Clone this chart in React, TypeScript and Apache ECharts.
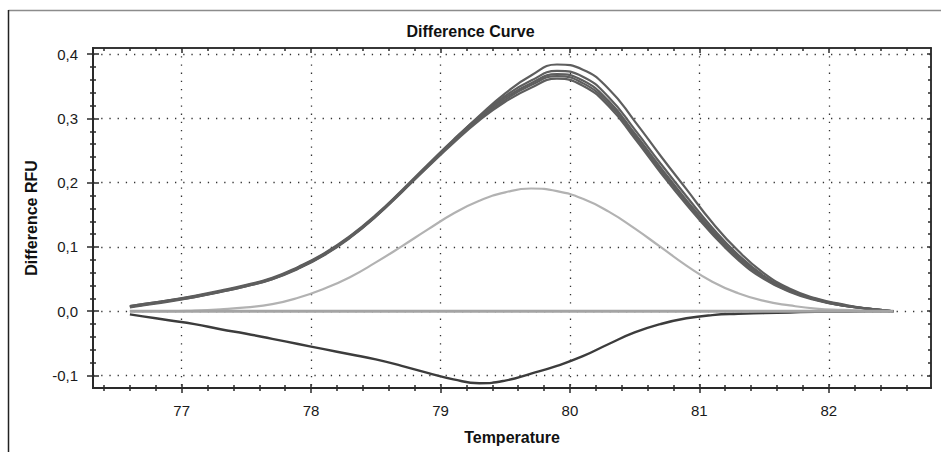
import React, { useEffect, useRef } from "react";
import * as echarts from "echarts";

// Temperature samples (°C)
const temps = [76.6, 76.7, 76.9, 77.1, 77.3, 77.5, 77.7, 77.9, 78.1, 78.3, 78.5, 78.7, 78.9, 79.1, 79.3, 79.5, 79.7, 79.9, 80.1, 80.3, 80.5, 80.7, 80.9, 81.1, 81.3, 81.5, 81.7, 81.9, 82.1, 82.3, 82.5];

// Difference RFU curves
const curveA = [0.008, 0.011, 0.017, 0.023, 0.031, 0.040, 0.051, 0.067, 0.088, 0.115, 0.148, 0.186, 0.226, 0.266, 0.304, 0.339, 0.367, 0.384, 0.376, 0.346, 0.296, 0.242, 0.190, 0.138, 0.094, 0.059, 0.035, 0.020, 0.011, 0.004, 0.000];
const curveB = [0.008, 0.011, 0.017, 0.024, 0.032, 0.041, 0.052, 0.069, 0.090, 0.117, 0.150, 0.188, 0.228, 0.267, 0.303, 0.335, 0.359, 0.374, 0.365, 0.333, 0.283, 0.230, 0.179, 0.130, 0.088, 0.055, 0.033, 0.019, 0.010, 0.004, 0.000];
const curveC = [0.007, 0.010, 0.016, 0.023, 0.031, 0.040, 0.051, 0.068, 0.089, 0.116, 0.149, 0.187, 0.226, 0.265, 0.301, 0.332, 0.355, 0.369, 0.359, 0.327, 0.277, 0.224, 0.173, 0.126, 0.085, 0.053, 0.032, 0.018, 0.009, 0.004, 0.000];
const curveD = [0.007, 0.010, 0.016, 0.022, 0.030, 0.039, 0.050, 0.067, 0.088, 0.115, 0.148, 0.186, 0.225, 0.264, 0.299, 0.329, 0.352, 0.366, 0.355, 0.323, 0.273, 0.220, 0.170, 0.123, 0.083, 0.052, 0.031, 0.018, 0.009, 0.004, 0.000];
const curveE = [0.006, 0.009, 0.015, 0.022, 0.030, 0.039, 0.050, 0.066, 0.087, 0.114, 0.147, 0.185, 0.224, 0.262, 0.297, 0.326, 0.348, 0.362, 0.351, 0.319, 0.269, 0.216, 0.166, 0.120, 0.080, 0.050, 0.030, 0.017, 0.009, 0.004, 0.000];
const curveLight = [0.000, 0.000, 0.000, 0.001, 0.003, 0.006, 0.011, 0.021, 0.035, 0.053, 0.076, 0.101, 0.127, 0.152, 0.172, 0.185, 0.191, 0.187, 0.175, 0.155, 0.129, 0.100, 0.071, 0.046, 0.028, 0.016, 0.009, 0.004, 0.002, 0.001, 0.000];
const curveNeg = [-0.005, -0.008, -0.014, -0.020, -0.028, -0.035, -0.043, -0.051, -0.059, -0.067, -0.075, -0.085, -0.096, -0.106, -0.112, -0.108, -0.097, -0.085, -0.070, -0.051, -0.033, -0.020, -0.011, -0.006, -0.004, -0.003, -0.002, -0.001, -0.001, 0.000, 0.000];
const curveZero = [0, 0, 0, 0, 0, 0, 0, 0, 0, 0, 0, 0, 0, 0, 0, 0, 0, 0, 0, 0, 0, 0, 0, 0, 0, 0, 0, 0, 0, 0, 0];

// Axis ticks
const xMajorTicks = [77, 78, 79, 80, 81, 82];
const xMinorTicks = [76.4, 76.6, 76.8, 77.2, 77.4, 77.6, 77.8, 78.2, 78.4, 78.6, 78.8, 79.2, 79.4, 79.6, 79.8, 80.2, 80.4, 80.6, 80.8, 81.2, 81.4, 81.6, 81.8, 82.2, 82.4, 82.6];
const yMajorTicks = [-0.1, 0, 0.1, 0.2, 0.3, 0.4];
const yMinorTicks = [-0.08, -0.06, -0.04, -0.02, 0.02, 0.04, 0.06, 0.08, 0.12, 0.14, 0.16, 0.18, 0.22, 0.24, 0.26, 0.28, 0.32, 0.34, 0.36, 0.38];

const X_MIN = 76.315;
const X_MAX = 82.79;
const Y_MIN = -0.1195;
const Y_MAX = 0.4097;

const FONT = "'Liberation Sans', Arial, sans-serif";
const AXIS_COLOR = "#2a2a2a";

export default function App() {
  const ref = useRef<HTMLDivElement>(null);

  useEffect(() => {
    if (!ref.current) return;
    const chart = echarts.init(ref.current, undefined, { renderer: "svg" });

    const toPairs = (ys: number[]) => temps.map((t, i) => [t, ys[i]]);

    const tickAxisX = (position: string, values: number[], len: number, inside: boolean) => ({
      type: "value",
      min: X_MIN,
      max: X_MAX,
      position,
      axisLine: { show: true, onZero: false, lineStyle: { color: AXIS_COLOR, width: 1.5 } },
      axisTick: { show: true, customValues: values, length: len, inside, lineStyle: { color: AXIS_COLOR, width: 1.5 } },
      axisLabel: { show: false },
      splitLine: { show: false },
    });
    const tickAxisY = (position: string, values: number[], len: number, inside: boolean) => ({
      type: "value",
      min: Y_MIN,
      max: Y_MAX,
      position,
      axisLine: { show: true, onZero: false, lineStyle: { color: AXIS_COLOR, width: 1.5 } },
      axisTick: { show: true, customValues: values, length: len, inside, lineStyle: { color: AXIS_COLOR, width: 1.5 } },
      axisLabel: { show: false },
      splitLine: { show: false },
    });

    const gridDots = { show: true, lineStyle: { type: [1.3, 6.9], color: "#333", width: 1.3 } };

    const lineSeries = (name: string, ys: number[], color: string, width: number, z: number) => ({
      type: "line",
      name,
      data: toPairs(ys),
      xAxisIndex: 0,
      yAxisIndex: 0,
      smooth: true,
      showSymbol: false,
      symbol: "none",
      z,
      lineStyle: { color, width },
    });

    chart.setOption({
      animation: false,
      backgroundColor: "#ffffff",
      title: {
        text: "Difference Curve",
        left: "center",
        top: 18,
        textStyle: { fontFamily: FONT, fontSize: 16, fontWeight: "bold", color: "#111" },
      },
      grid: { left: 93, right: 10, top: 48, bottom: 64, containLabel: false },
      xAxis: [
        {
          type: "value",
          min: X_MIN,
          max: X_MAX,
          position: "bottom",
          name: "Temperature",
          nameLocation: "middle",
          nameGap: 41,
          nameTextStyle: { fontFamily: FONT, fontSize: 16, fontWeight: "bold", color: "#111" },
          axisLine: { show: true, onZero: false, lineStyle: { color: AXIS_COLOR, width: 1.5 } },
          axisTick: { show: true, customValues: xMajorTicks, length: 5, inside: false, lineStyle: { color: AXIS_COLOR, width: 1.5 } },
          axisLabel: {
            show: true,
            customValues: xMajorTicks,
            margin: 15,
            fontFamily: FONT,
            fontSize: 15,
            color: "#1a1a1a",
            formatter: (v: number) => String(Math.round(v)),
          },
          splitLine: gridDots,
        },
        tickAxisX("bottom", xMajorTicks, 4, true),
        tickAxisX("bottom", xMinorTicks, 3, false),
        tickAxisX("bottom", xMinorTicks, 3, true),
        tickAxisX("top", xMajorTicks, 5, true),
        tickAxisX("top", xMinorTicks, 3, true),
      ],
      yAxis: [
        {
          type: "value",
          min: Y_MIN,
          max: Y_MAX,
          position: "left",
          name: "Difference RFU",
          nameLocation: "middle",
          nameRotate: 90,
          nameGap: 54,
          nameTextStyle: { fontFamily: FONT, fontSize: 16, fontWeight: "bold", color: "#111" },
          axisLine: { show: true, onZero: false, lineStyle: { color: AXIS_COLOR, width: 1.5 } },
          axisTick: { show: true, customValues: yMajorTicks, length: 6, inside: false, lineStyle: { color: AXIS_COLOR, width: 1.5 } },
          axisLabel: {
            show: true,
            customValues: yMajorTicks,
            margin: 15,
            fontFamily: FONT,
            fontSize: 15,
            color: "#1a1a1a",
            formatter: (v: number) => v.toFixed(1).replace(".", ","),
          },
          splitLine: gridDots,
        },
        tickAxisY("left", yMajorTicks, 6, true),
        tickAxisY("left", yMinorTicks, 3, false),
        tickAxisY("left", yMinorTicks, 3, true),
        tickAxisY("right", yMajorTicks, 4, true),
        tickAxisY("right", yMinorTicks, 3, true),
      ],
      series: [
        lineSeries("Well A", curveA, "#5e5e5e", 2.2, 3),
        lineSeries("Well B", curveB, "#5e5e5e", 2.2, 3),
        lineSeries("Well C", curveC, "#5e5e5e", 2.2, 3),
        lineSeries("Well D", curveD, "#5e5e5e", 2.2, 3),
        lineSeries("Well E", curveE, "#5e5e5e", 2.2, 3),
        lineSeries("Well F", curveLight, "#b2b2b2", 2.2, 2),
        lineSeries("Well G", curveNeg, "#3c3c3c", 2.4, 2),
        lineSeries("NTC", curveZero, "#a4a4a4", 3, 4),
      ],
      graphic: [
        { type: "line", silent: true, shape: { x1: 8.5, y1: 10.5, x2: 941, y2: 10.5 }, style: { stroke: "#8c8c8c", lineWidth: 1.5 } },
        { type: "line", silent: true, shape: { x1: 8.5, y1: 10, x2: 8.5, y2: 452 }, style: { stroke: "#222", lineWidth: 1.5 } },
      ],
    });

    return () => chart.dispose();
  }, []);

  return <div ref={ref} style={{ position: "fixed", left: 0, top: 0, width: 941, height: 452, background: "#fff" }} />;
}
